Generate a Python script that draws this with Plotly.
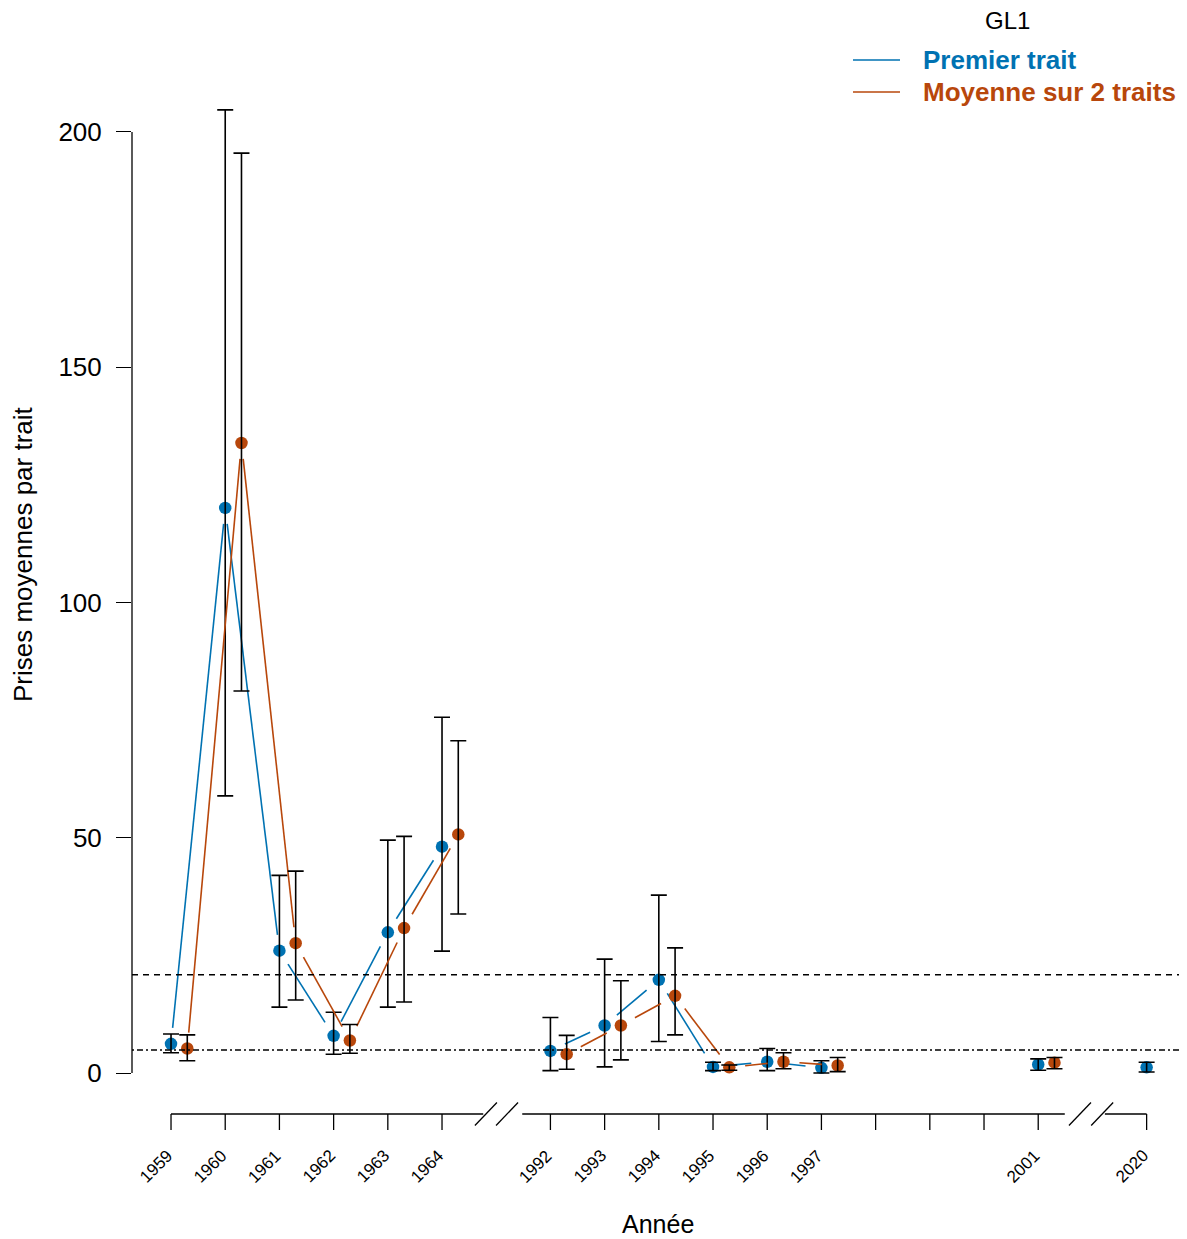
import math
import plotly.graph_objects as go

# ---------------- data ----------------
years_blue = [1959, 1960, 1961, 1962, 1963, 1964, 1992, 1993, 1994, 1995, 1996, 1997, 2001, 2020]
blue_mean = [6.2, 120.1, 26.0, 7.9, 29.9, 48.1, 4.7, 10.1, 19.8, 1.3, 2.4, 1.1, 1.8, 1.2]
blue_upper = [8.3, 204.7, 42.0, 12.9, 49.5, 75.6, 11.8, 24.2, 37.8, 2.3, 5.2, 2.6, 3.0, 2.3]
blue_lower = [4.3, 58.9, 14.0, 4.0, 14.0, 25.9, 0.5, 1.3, 6.7, 0.5, 0.5, 0.0, 0.6, 0.2]

years_orange = [1959, 1960, 1961, 1962, 1963, 1964, 1992, 1993, 1994, 1995, 1996, 1997, 2001]
orange_mean = [5.2, 133.9, 27.6, 6.9, 30.8, 50.7, 4.0, 10.1, 16.4, 1.2, 2.4, 1.6, 2.2]
orange_upper = [8.1, 195.5, 42.9, 10.3, 50.3, 70.6, 8.0, 19.6, 26.6, 1.7, 4.3, 3.3, 3.3]
orange_lower = [2.6, 81.2, 15.5, 4.2, 15.1, 33.8, 0.8, 2.8, 8.1, 0.6, 0.9, 0.3, 0.9]

# axis slots (None = axis break)
slot_years = [1959, 1960, 1961, 1962, 1963, 1964, None,
              1992, 1993, 1994, 1995, 1996, 1997, 1998, 1999, 2000, 2001, None, 2020]
tick_labels = ["1959", "1960", "1961", "1962", "1963", "1964",
               "1992", "1993", "1994", "1995", "1996", "1997", "", "", "", "2001", "2020"]

ref_dashed = 20.9
ref_dotdash = 4.9

y_ticks = [0, 50, 100, 150, 200]

series_names = ["Premier trait", "Moyenne sur 2 traits"]
legend_title = "GL1"
x_title = "Année"
y_title = "Prises moyennes par trait"

# ---------------- layout constants ----------------
PAGE_OFF = 8                      # browser body margin
W, H = 1187 - PAGE_OFF, 1239 - PAGE_OFF
ML, MR, MT = 132 - PAGE_OFF, 0, 20 - PAGE_OFF
PLOT_BOTTOM = 1114                # in page pixels
MB = H - (PLOT_BOTTOM - PAGE_OFF)
PW, PH = W - ML - MR, H - MT - MB
X0, X1 = -0.72, 18.745
Y0, Y1 = -8.714, 223.8
SX = PW / (X1 - X0)   # px per slot
SY = PH / (Y1 - Y0)   # px per unit
BLUE = "#0072B2"
ORANGE = "#B8470B"
FONT = "Liberation Sans, Arial, sans-serif"
OFFSET = 0.3
GAP = 16  # px gap of type="b" lines


def paper_y(px):   # page pixel -> paper
    return (PLOT_BOTTOM - px) / PH


def paper_x(px):
    return (px - 132) / PW


slot_of = {y: i for i, y in enumerate(slot_years) if y is not None}


def gapped_segments(years, vals, off):
    xs, ys = [], []
    for i in range(len(years) - 1):
        if years[i + 1] - years[i] != 1:
            continue
        xa, xb = slot_of[years[i]] + off, slot_of[years[i + 1]] + off
        ya, yb = vals[i], vals[i + 1]
        d = math.hypot((xb - xa) * SX, (yb - ya) * SY)
        if d <= 2 * GAP:
            continue
        t = GAP / d
        xs += [xa + t * (xb - xa), xb - t * (xb - xa), None]
        ys += [ya + t * (yb - ya), yb - t * (yb - ya), None]
    return xs, ys


fig = go.Figure()

for years, mean, up, lo, off, col, name in [
    (years_blue, blue_mean, blue_upper, blue_lower, 0.0, BLUE, series_names[0]),
    (years_orange, orange_mean, orange_upper, orange_lower, OFFSET, ORANGE, series_names[1]),
]:
    xs, ys = gapped_segments(years, mean, off)
    fig.add_trace(go.Scatter(x=xs, y=ys, mode="lines", line=dict(color=col, width=1.6),
                             showlegend=False, hoverinfo="skip", name=name))
    xpos = [slot_of[y] + off for y in years]
    fig.add_trace(go.Scatter(x=xpos, y=mean, mode="markers",
                             marker=dict(color=col, size=12.5), showlegend=False, name=name))
    fig.add_trace(go.Scatter(
        x=xpos, y=mean, mode="markers",
        marker=dict(color="rgba(0,0,0,0)", size=12),
        error_y=dict(type="data", symmetric=False,
                     array=[u - m for u, m in zip(up, mean)],
                     arrayminus=[m - l for m, l in zip(mean, lo)],
                     color="black", thickness=1.6, width=8),
        showlegend=False, hoverinfo="skip"))

shapes = []
# reference lines
shapes.append(dict(type="line", xref="paper", yref="y", x0=0, x1=1, y0=ref_dashed, y1=ref_dashed,
                   line=dict(color="black", width=1.5, dash="6px,5px")))
shapes.append(dict(type="line", xref="paper", yref="y", x0=0, x1=1, y0=ref_dotdash, y1=ref_dotdash,
                   line=dict(color="black", width=1.5, dash="2px,3px,6px,3px")))
# y axis line
shapes.append(dict(type="line", xref="paper", yref="y", x0=0, x1=0, y0=y_ticks[0], y1=y_ticks[-1],
                   line=dict(color="black", width=1.3)))

# custom x axis with breaks
AX_Y = 0.0
TICK_LEN = 16 / PH
axis_runs = [(0, 5.76), (6.48, 16.49), (17.23, 18)]
for a, b in axis_runs:
    shapes.append(dict(type="line", xref="x", yref="paper", x0=a, x1=b, y0=AX_Y, y1=AX_Y,
                       line=dict(color="black", width=1.3)))
slash_centers = [5.81, 6.20, 16.77, 17.18]
hx, hy = 11 / SX, 11.5 / PH
for c in slash_centers:
    shapes.append(dict(type="line", xref="x", yref="paper", x0=c - hx, x1=c + hx,
                       y0=AX_Y - hy, y1=AX_Y + hy, line=dict(color="black", width=1.3)))

annotations = []
tick_slots = [i for i, y in enumerate(slot_years) if y is not None]
for s, lab in zip(tick_slots, tick_labels):
    shapes.append(dict(type="line", xref="x", yref="paper", x0=s, x1=s, y0=AX_Y, y1=AX_Y - TICK_LEN,
                       line=dict(color="black", width=1.3)))
    if lab:
        annotations.append(dict(text=lab, xref="x", yref="paper", x=s - 15 / SX, y=paper_y(1166),
                                xanchor="center", yanchor="middle", textangle=-45, showarrow=False,
                                font=dict(family=FONT, size=17, color="black")))

# axis titles
annotations.append(dict(text=x_title, xref="paper", yref="paper", x=paper_x(658), y=paper_y(1224),
                        xanchor="center", yanchor="middle", showarrow=False,
                        font=dict(family=FONT, size=25, color="black")))
annotations.append(dict(text=y_title, xref="paper", yref="paper", x=paper_x(23), y=paper_y(554),
                        xanchor="center", yanchor="middle", textangle=-90, showarrow=False,
                        font=dict(family=FONT, size=26, color="black")))

# legend (manual)
annotations.append(dict(text=legend_title, xref="paper", yref="paper", x=paper_x(1007), y=paper_y(20),
                        xanchor="center", yanchor="middle", showarrow=False,
                        font=dict(family=FONT, size=24, color="black")))
for name, col, ypx in [(series_names[0], BLUE, 60), (series_names[1], ORANGE, 92)]:
    shapes.append(dict(type="line", xref="paper", yref="paper", x0=paper_x(853), x1=paper_x(900),
                       y0=paper_y(ypx), y1=paper_y(ypx), line=dict(color=col, width=1.5)))
    annotations.append(dict(text="<b>" + name + "</b>", xref="paper", yref="paper", x=paper_x(921),
                            y=paper_y(ypx), xanchor="left", yanchor="middle", showarrow=False,
                            font=dict(family=FONT, size=26, color=col)))

fig.update_layout(
    width=W, height=H,
    margin=dict(l=ML, r=MR, t=MT, b=MB, pad=0),
    paper_bgcolor="white", plot_bgcolor="white",
    showlegend=False,
    shapes=shapes, annotations=annotations,
    xaxis=dict(range=[X0, X1], showgrid=False, zeroline=False, showline=False,
               showticklabels=False, ticks=""),
    yaxis=dict(range=[Y0, Y1], showgrid=False, zeroline=False, showline=False,
               tickmode="array", tickvals=y_ticks, ticktext=[str(v) for v in y_ticks],
               ticks="outside", ticklen=15, tickwidth=1.3, tickcolor="black",
               ticklabelstandoff=9,
               tickfont=dict(family=FONT, size=26, color="black")),
)

fig.write_html("out.html")
